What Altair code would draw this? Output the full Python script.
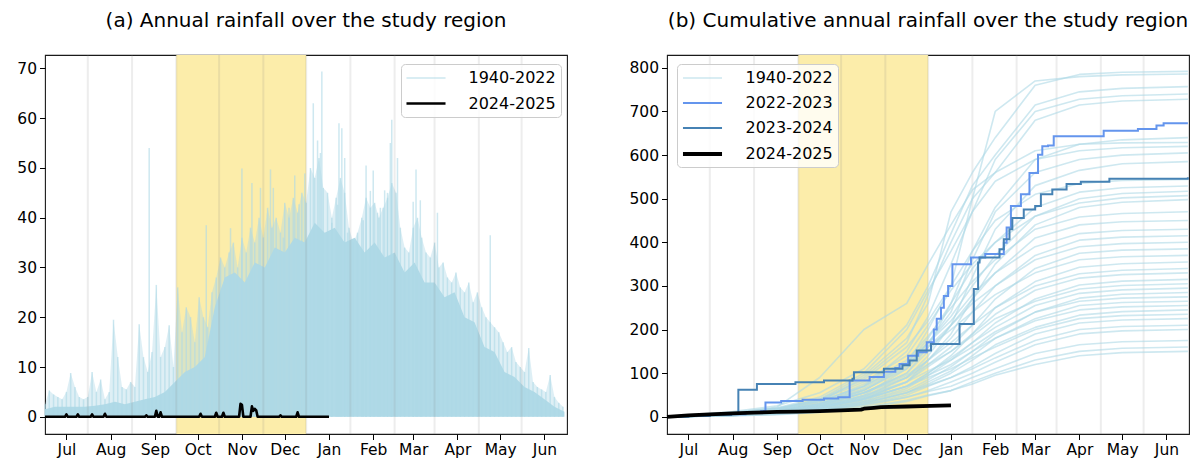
import altair as alt
import pandas as pd

# Season axis runs from 16 June 2024 to 16 June 2025; every day value below
# is counted in days from that start.
SEASON_START = pd.Timestamp("2024-06-16")


def day_to_date(days):
    return [(SEASON_START + pd.Timedelta(days=int(d))).strftime("%Y-%m-%d") for d in days]


# ---------------- panel (a): daily rainfall (mm) ----------------
# Upper envelope of the 1940-2022 daily traces, one value every 3 days
PEAK_STEP = 3
peak_mm = [
    2.5, 5.3, 4.5, 4, 3.5, 5, 8.8, 6, 4, 3.5, 4, 9, 5, 7.5, 3.5, 5,
    19.5, 12, 6, 5.5, 7, 6, 18.6, 12, 9, 13, 26.5, 12, 14, 18.4, 10, 26,
    17, 22, 20, 15, 24, 20, 18, 25, 28, 32, 30, 33, 35, 30, 36, 33,
    38, 35, 40, 36, 42, 38, 40, 37, 43, 40, 44, 41, 45, 43, 50, 48,
    52, 46, 45, 40, 44, 48, 45, 38, 35, 37, 40, 44, 42, 43, 40, 42,
    44, 47, 45, 38, 34, 33, 38, 40, 36, 33, 32, 35, 30, 31, 28, 27,
    29, 26, 25, 27, 23, 25, 22, 20, 19, 18, 17, 15, 13, 14, 11, 10,
    9, 13.8, 7, 6, 5.5, 5, 8.4, 4, 2.8, 2,
]

# Isolated heavy-rain days that stand above the envelope
spike_days = [73, 113, 130, 138, 145, 151, 158, 160, 167, 171, 175, 178, 182,
              188, 191, 193, 194, 201, 205, 206, 208, 210, 212, 223, 225, 228,
              230, 233, 235, 238, 240, 242, 243, 247, 258, 260, 263, 275, 312]
spike_mm = [54, 38.5, 37.9, 49.9, 47, 46, 49.7, 46, 36, 42, 48.5, 42.7, 48.9,
            63, 55.5, 53, 69.4, 39, 42.6, 59, 58, 52, 37, 39.5, 50.5, 45.4,
            49.5, 41, 42, 45.5, 45, 55, 59.7, 52, 43.2, 49.7, 43.5, 41, 36.5]

# Level below which the overlapping traces fill in solid (weekly)
CORE_STEP = 7
core_mm = [1.5, 2, 2, 2, 2, 2.2, 2.5, 3, 2.5, 3, 3.5, 4, 5, 7, 9, 10, 12, 22,
           28, 29, 27, 31, 30, 34, 33, 36, 35, 39, 37, 38, 35, 36, 33, 35, 32,
           33, 29, 31, 27, 27, 24, 25, 20, 19, 14, 13, 9, 8, 6, 5, 3.5, 2, 1]

# 2024-2025 season so far: rain days (all other days recorded 0 mm)
season_last_day = 199
rain_days = [15, 23, 33, 42, 71, 78, 81, 109, 120, 125, 137, 138, 145, 146,
             147, 148, 165, 177]
rain_mm = [0.5, 0.5, 0.5, 0.6, 0.3, 1.2, 0.9, 0.6, 0.8, 0.8, 2.6, 2.4, 2.1,
           1.2, 1.6, 1.3, 0.3, 0.9]

# ---------------- panel (b): cumulative rainfall (mm) ----------------
knot_days = [0, 15, 46, 77, 107, 138, 168, 183, 199, 214, 230, 258, 289, 319, 365]
hist_curves = [
    [0, 3, 10, 18, 40, 95, 180, 260, 470, 560, 640, 760, 785, 790, 792],
    [0, 2, 8, 15, 30, 60, 120, 200, 300, 500, 700, 770, 780, 784, 786],
    [0, 4, 12, 25, 55, 110, 210, 300, 420, 530, 600, 715, 745, 753, 757],
    [0, 2, 6, 14, 28, 70, 150, 230, 350, 470, 590, 700, 728, 736, 740],
    [0, 3, 9, 22, 90, 200, 260, 350, 440, 520, 560, 680, 715, 724, 728],
    [0, 1, 5, 12, 25, 55, 100, 160, 260, 380, 480, 590, 625, 635, 640],
    [0, 2, 7, 16, 35, 90, 170, 280, 400, 500, 560, 610, 625, 628, 629],
    [0, 3, 10, 20, 45, 100, 200, 290, 380, 470, 540, 590, 610, 617, 620],
    [0, 2, 6, 12, 22, 50, 110, 170, 240, 360, 470, 560, 590, 600, 605],
    [0, 1, 5, 11, 20, 45, 90, 140, 210, 320, 430, 530, 565, 580, 585],
    [0, 3, 8, 18, 40, 85, 160, 220, 300, 380, 450, 510, 535, 542, 544],
    [0, 2, 7, 13, 30, 65, 120, 180, 260, 340, 400, 480, 515, 525, 529],
    [0, 2, 6, 14, 26, 60, 115, 170, 230, 300, 370, 460, 500, 512, 517],
    [0, 3, 9, 20, 38, 80, 140, 210, 290, 350, 400, 460, 490, 502, 507],
    [0, 1, 4, 10, 20, 40, 80, 130, 190, 270, 350, 440, 480, 492, 498],
    [0, 2, 7, 15, 32, 75, 130, 185, 250, 310, 360, 430, 458, 466, 470],
    [0, 2, 6, 12, 25, 55, 100, 150, 210, 270, 330, 410, 440, 447, 450],
    [0, 3, 8, 17, 35, 70, 125, 170, 220, 280, 330, 390, 420, 427, 430],
    [0, 1, 5, 11, 22, 48, 90, 130, 180, 240, 300, 370, 405, 412, 415],
    [0, 2, 6, 14, 30, 62, 110, 160, 210, 260, 300, 360, 390, 397, 400],
    [0, 2, 5, 10, 20, 42, 80, 120, 160, 210, 270, 340, 375, 382, 385],
    [0, 3, 9, 18, 36, 70, 120, 160, 200, 240, 280, 330, 360, 367, 370],
    [0, 1, 4, 9, 18, 38, 70, 100, 140, 190, 250, 310, 343, 351, 355],
    [0, 2, 6, 12, 26, 55, 95, 130, 170, 210, 250, 300, 328, 336, 340],
    [0, 2, 5, 11, 22, 45, 80, 115, 150, 190, 235, 290, 318, 326, 330],
    [0, 1, 4, 8, 16, 35, 65, 95, 130, 170, 215, 270, 302, 311, 315],
    [0, 2, 6, 13, 28, 55, 90, 120, 150, 185, 225, 265, 293, 301, 305],
    [0, 2, 5, 10, 20, 40, 70, 100, 135, 170, 205, 255, 283, 291, 295],
    [0, 1, 4, 9, 17, 35, 60, 85, 115, 150, 190, 240, 272, 281, 285],
    [0, 2, 6, 12, 24, 48, 80, 105, 130, 160, 195, 240, 265, 272, 275],
    [0, 1, 3, 7, 14, 30, 55, 80, 105, 140, 180, 225, 255, 262, 265],
    [0, 2, 5, 10, 20, 40, 70, 95, 120, 150, 180, 220, 245, 252, 255],
    [0, 1, 4, 8, 15, 32, 55, 75, 100, 130, 165, 205, 233, 241, 245],
    [0, 2, 5, 11, 22, 42, 70, 90, 110, 135, 160, 200, 225, 232, 235],
    [0, 1, 3, 7, 13, 28, 50, 70, 90, 115, 145, 190, 215, 222, 225],
    [0, 1, 4, 8, 16, 32, 55, 72, 90, 110, 135, 175, 200, 207, 210],
    [0, 1, 3, 6, 12, 25, 45, 60, 80, 100, 125, 165, 190, 197, 200],
    [0, 1, 3, 7, 14, 28, 45, 58, 70, 90, 110, 145, 165, 172, 175],
    [0, 1, 2, 5, 10, 20, 35, 48, 60, 80, 100, 130, 150, 157, 160],
    [0, 1, 3, 6, 11, 22, 38, 50, 60, 75, 95, 120, 140, 147, 150],
]

# Running totals for the two previous seasons (value holds from that day on)
steps_2022_days = [0, 10, 25, 40, 55, 66, 69, 80, 95, 110, 120, 128, 142, 152,
                   160, 163, 169, 176, 182, 187, 189, 192, 194, 197, 200, 213,
                   223, 236, 238, 241, 248, 254, 260, 263, 267, 271, 306, 330,
                   343, 348, 365]
steps_2022_mm = [0, 2, 4, 6, 9, 13, 33, 36, 39, 42, 45, 83, 91, 103, 112, 121,
                 140, 148, 171, 200, 225, 250, 277, 300, 350, 365, 373, 399,
                 434, 483, 510, 559, 601, 620, 622, 643, 656, 660, 668, 673, 673]
steps_2023_days = [0, 15, 30, 45, 50, 63, 90, 110, 130, 131, 152, 165, 170,
                   175, 185, 205, 215, 218, 219, 233, 236, 240, 242, 250, 258,
                   262, 270, 280, 290, 310, 365]
steps_2023_mm = [0, 2, 4, 7, 62, 75, 79, 83, 87, 102, 110, 118, 129, 152, 167,
                 213, 293, 354, 365, 384, 407, 430, 456, 475, 483, 510, 521,
                 534, 539, 546, 549]

# 2024-2025 running total so far
cum_2024_days = [0, 15, 30, 46, 61, 77, 92, 107, 122, 136, 138, 145, 150, 168, 185, 199]
cum_2024_mm = [0, 3, 5.5, 8, 9.5, 11, 12, 13, 14.5, 16.5, 18.5, 20.5, 22, 23.5, 25, 26]

# ---------------- shared calendar pieces ----------------
month_ticks = [(2024, m) for m in range(7, 13)] + [(2025, m) for m in range(1, 7)]
mid_month_lines = ["2024-07-16", "2024-08-16", "2024-09-16", "2024-10-16",
                   "2024-11-16", "2024-12-16", "2025-01-16", "2025-02-16",
                   "2025-03-16", "2025-04-16", "2025-05-16"]
season_band = {"start": ["2024-09-16"], "end": ["2024-12-16"]}

LIGHTBLUE = "#add8e6"
YELLOW = "#fcedaa"
FONT = "DejaVu Sans"
PANEL_W, PANEL_H = 522, 379

x_scale = alt.Scale(
    type="utc",
    domain=[alt.DateTime(year=2024, month=6, date=16, utc=True),
            alt.DateTime(year=2025, month=6, date=16, hours=19, utc=True)],
)
x_axis = alt.Axis(
    values=[alt.DateTime(year=y, month=m, date=1, utc=True) for y, m in month_ticks],
    labelExpr="utcFormat(datum.value, '%b')", labelOverlap=False,
    title=None, grid=False, domain=False,
    tickSize=5.5, tickColor="#000", tickWidth=1, labelFontSize=15.5,
    labelColor="#000", labelPadding=3, labelFont=FONT, labelFlush=False,
)


def xenc(field="date"):
    return alt.X(f"{field}:T", scale=x_scale, axis=x_axis)


def y_axis(step, top):
    return alt.Axis(values=list(range(0, top + 1, step)), title=None, grid=False,
                    domain=False, tickSize=5.5, tickColor="#000", tickWidth=1,
                    labelFontSize=15.5, labelColor="#000", labelPadding=3,
                    labelFont=FONT)


def legend_at(x, y):
    return alt.Legend(
        title=None, orient="none", legendX=x, legendY=y,
        symbolType="M-2.44,0H2.44", symbolSize=256, symbolOffset=10.5,
        labelOffset=33, labelFontSize=16, labelFont=FONT, labelColor="#000",
        rowPadding=8, padding=5, fillColor="rgba(255,255,255,0.8)",
        strokeColor="#cccccc", cornerRadius=4,
    )


def series_channels(series, colors, widths, opacities, legend):
    return dict(
        color=alt.Color("series:N", scale=alt.Scale(domain=series, range=colors),
                        legend=legend),
        strokeWidth=alt.StrokeWidth("series:N", scale=alt.Scale(
            type="ordinal", domain=series, range=widths), legend=legend),
        opacity=alt.Opacity("series:N", scale=alt.Scale(
            type="ordinal", domain=series, range=opacities), legend=legend),
    )


def band_layer():
    return alt.Chart(pd.DataFrame(season_band)).mark_rect(color=YELLOW).encode(
        x=xenc("start"), x2="end:T")


def grid_layer():
    return alt.Chart(pd.DataFrame({"date": mid_month_lines})).mark_rule(
        color="#808080", opacity=0.14, strokeWidth=2).encode(x=xenc())


def title(text):
    return alt.TitleParams(text, fontSize=20, font=FONT, fontWeight="normal",
                           color="#000", anchor="middle", baseline="alphabetic",
                           offset=7)


# ---------------- build panel (a) ----------------
a_series = ["1940-2022", "2024-2025"]
a_enc = series_channels(a_series, [LIGHTBLUE, "#000000"], [1.5, 2.6], [0.6, 1],
                        legend_at(356, 9))
a_y = alt.Scale(domain=[-3.46, 72.7], nice=False, zero=False)
a_yenc = alt.Y("mm:Q", scale=a_y, axis=y_axis(10, 70))

peak_days = list(range(0, PEAK_STEP * len(peak_mm), PEAK_STEP))
peak_df = pd.DataFrame({"date": day_to_date(peak_days), "mm": peak_mm})
hist_daily = pd.DataFrame({
    "date": day_to_date(peak_days) + day_to_date(spike_days),
    "mm": peak_mm + spike_mm,
    "series": "1940-2022",
})
core_df = pd.DataFrame({
    "date": day_to_date(range(0, CORE_STEP * len(core_mm), CORE_STEP)),
    "mm": core_mm,
})
daily_2024 = dict(zip(rain_days, rain_mm))
season_days = list(range(0, season_last_day + 1))
black_daily = pd.DataFrame({
    "date": day_to_date(season_days),
    "mm": [daily_2024.get(d, 0.0) for d in season_days],
    "series": "2024-2025",
})

panel_a = alt.layer(
    band_layer(),
    alt.Chart(peak_df).mark_area(color=LIGHTBLUE, opacity=0.4).encode(
        x=xenc(), y=a_yenc),
    alt.Chart(hist_daily).mark_rule().encode(
        x=xenc(), y=a_yenc, y2=alt.datum(0), **a_enc),
    alt.Chart(core_df).mark_area(color=LIGHTBLUE, opacity=0.95).encode(
        x=xenc(), y=a_yenc),
    grid_layer(),
    alt.Chart(black_daily).mark_line(strokeJoin="round").encode(
        x=xenc(), y=a_yenc, **a_enc),
).properties(width=PANEL_W, height=PANEL_H,
             title=title("(a) Annual rainfall over the study region"))

# ---------------- build panel (b) ----------------
b_series = ["1940-2022", "2022-2023", "2023-2024", "2024-2025"]
b_enc = series_channels(b_series, [LIGHTBLUE, "#6495ed", "#4682b4", "#000000"],
                        [1.6, 2, 2, 3.8], [0.6, 1, 1, 1], legend_at(10, 9))
b_y = alt.Scale(domain=[-39.5, 829.5], nice=False, zero=False)
b_yenc = alt.Y("mm:Q", scale=b_y, axis=y_axis(100, 800))

hist_rows = []
for i, curve in enumerate(hist_curves):
    for d, v in zip(day_to_date(knot_days), curve):
        hist_rows.append({"date": d, "mm": v, "curve": f"c{i}", "series": "1940-2022"})
hist_cum = pd.DataFrame(hist_rows)

recent_cum = pd.concat([
    pd.DataFrame({"date": day_to_date(steps_2022_days), "mm": steps_2022_mm,
                  "curve": "2022", "series": "2022-2023"}),
    pd.DataFrame({"date": day_to_date(steps_2023_days), "mm": steps_2023_mm,
                  "curve": "2023", "series": "2023-2024"}),
])
black_cum = pd.DataFrame({"date": day_to_date(cum_2024_days), "mm": cum_2024_mm,
                          "series": "2024-2025"})

panel_b = alt.layer(
    band_layer(),
    grid_layer(),
    alt.Chart(hist_cum).mark_line(strokeJoin="round").encode(
        x=xenc(), y=b_yenc, detail="curve:N", **b_enc),
    alt.Chart(recent_cum).mark_line(interpolate="step-after").encode(
        x=xenc(), y=b_yenc, detail="curve:N", **b_enc),
    alt.Chart(black_cum).mark_line(strokeJoin="round").encode(
        x=xenc(), y=b_yenc, **b_enc),
).properties(width=PANEL_W, height=PANEL_H,
             title=title("(b) Cumulative annual rainfall over the study region"))

chart = alt.hconcat(panel_a, panel_b, spacing=60).resolve_scale(
    color="independent", strokeWidth="independent", opacity="independent"
).resolve_legend(
    color="independent", strokeWidth="independent", opacity="independent"
).properties(
    padding={"left": 16, "top": 10, "right": 0, "bottom": 0}
).configure(font=FONT).configure_view(stroke="#1a1a1a", strokeWidth=1.1)

chart.save("out.html", embed_options={"renderer": "svg", "actions": False})
